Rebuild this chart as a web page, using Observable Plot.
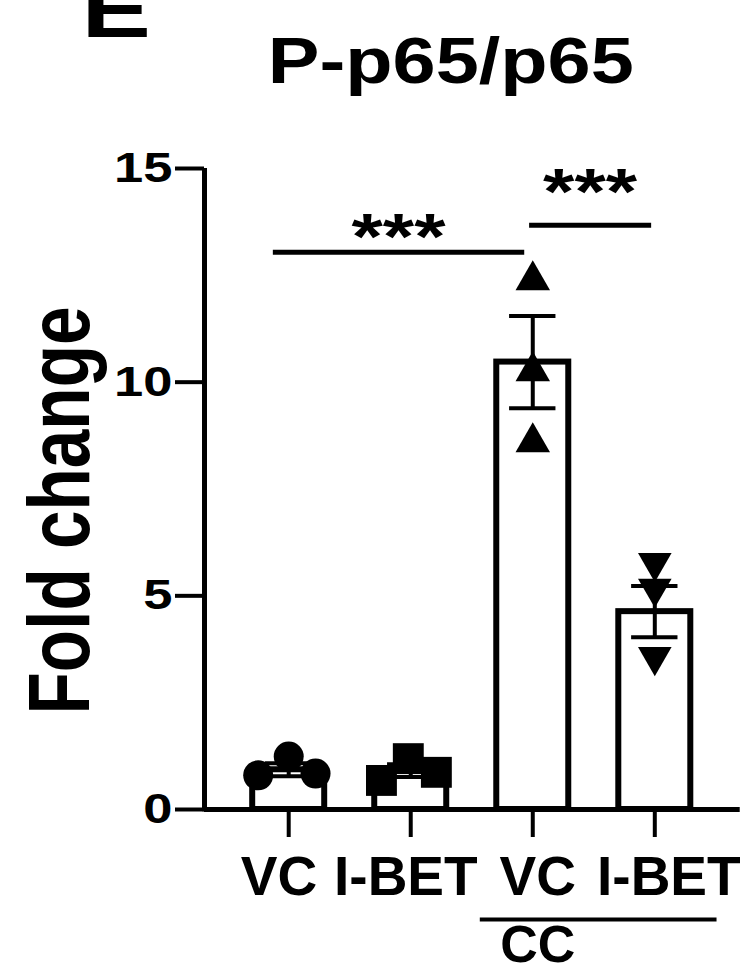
<!DOCTYPE html>
<html><head><meta charset="utf-8">
<script src="https://cdn.jsdelivr.net/npm/d3@7"></script>
<script src="https://cdn.jsdelivr.net/npm/@observablehq/plot@0.6"></script>
<style>
html,body{margin:0;padding:0;background:#fff;}
#chart{width:746px;height:972px;overflow:hidden}
</style></head><body><div id="chart"></div>
<script>
// ---- data ----
const groups = ["VC", "I-BET", "VC", "I-BET"];
const groupLabelShift = [-0.08, -0.04, 0.04, 0.115];
const barMeans = [0.93, 0.91, 10.47, 4.63];
const barSems = [0.15, 0.15, 1.08, 0.60];
const pointGroup = [0, 0, 0, 1, 1, 1, 2, 2, 2, 3, 3, 3];
const pointValues = [0.80, 1.24, 0.84, 0.68, 1.19, 0.87, 12.5, 10.37, 8.71, 5.66, 5.06, 3.46];
const pointJitter = [-0.25, 0, 0.22, -0.24, -0.02, 0.21, 0, 0, 0, 0, 0, 0];
const groupShapes = ["circle", "square", "triangleUp", "triangleDown"];
const yTicks = [0, 5, 10, 15];
const sigFrom = [0, 2];
const sigTo = [2, 3];
const sigFromInset = [-0.13, -0.03];
const sigToInset = [-0.07, -0.03];
const sigLineY = [13.04, 13.67];
const sigStarY = [13.36, 14.42];
const sigLabel = ["***", "***"];
const bracketLabel = "CC";
const bracketGroups = [2, 3];
const panelLabel = "E";
const titleText = "P-p65/p65";
const yLabelText = "Fold change";

// ---- styles ----
const INK = "#000";
const barHalf = 0.295;
const capHalf = 0.19;
const xDomain = [-0.69, 3.69];

const symbols = {
  circle: {draw(c, size) { const r = Math.sqrt(size / Math.PI) * 1.0; c.moveTo(r, 0); c.arc(0, 0, r, 0, 2 * Math.PI); c.closePath(); }},
  square: {draw(c, size) { const h = Math.sqrt(size / Math.PI) * 1.03; c.rect(-h, -h, 2 * h, 2 * h); }},
  triangleUp: {draw(c, size) { const r = Math.sqrt(size / Math.PI); const w = r * 1.15, h = r; c.moveTo(0, -h); c.lineTo(w, h); c.lineTo(-w, h); c.closePath(); }},
  triangleDown: {draw(c, size) { const r = Math.sqrt(size / Math.PI); const w = r * 1.12, h = r * 0.97; c.moveTo(0, h); c.lineTo(w, -h); c.lineTo(-w, -h); c.closePath(); }}
};

const barIdx = d3.range(groups.length);
const ptIdx = d3.range(pointValues.length);
const sigIdx = d3.range(sigFrom.length);

const dotMarks = barIdx.map(g => Plot.dot(ptIdx.filter(j => pointGroup[j] === g), {
  x: j => pointGroup[j] + pointJitter[j],
  y: j => pointValues[j],
  r: 15,
  symbol: symbols[groupShapes[g]],
  fill: INK,
  stroke: "none"
}));

const svg = Plot.plot({
  width: 746,
  height: 972,
  marginLeft: 204,
  marginRight: 7.5,
  marginTop: 168,
  marginBottom: 163,
  style: {fontFamily: "'Liberation Sans', Arial, sans-serif", fontWeight: "bold", background: "white", color: INK, overflow: "visible"},
  x: {type: "linear", domain: xDomain},
  y: {domain: [0, 15]},
  marks: [
    Plot.rect(barIdx, {x1: i => i - barHalf, x2: i => i + barHalf, y1: 0, y2: i => barMeans[i], fill: "white", stroke: INK, strokeWidth: 6}),
    Plot.ruleY([0], {x1: xDomain[0], x2: 3.70, stroke: INK, strokeWidth: 5}),
    Plot.ruleX([xDomain[0]], {y1: -0.05, y2: 15, stroke: INK, strokeWidth: 5}),
    Plot.axisY({ticks: yTicks, tickSize: 29, tickPadding: 3, fontSize: 42, fontWeight: "bold", strokeWidth: 4, label: null, tickFormat: d => String(d)}),
    Plot.axisX({ticks: barIdx, text: null, tickSize: 28, strokeWidth: 4, label: null}),
    Plot.text(barIdx, {x: i => i + groupLabelShift[i], y: 0, text: i => groups[i], dy: 46, lineAnchor: "top", fontSize: 55, fontWeight: "bold", fill: INK}),
    ...dotMarks,
    Plot.ruleX(barIdx, {x: i => i, y1: i => barMeans[i] - barSems[i], y2: i => barMeans[i] + barSems[i], stroke: INK, strokeWidth: 4}),
    Plot.ruleY(barIdx, {x1: i => i - capHalf, x2: i => i + capHalf, y: i => barMeans[i] + barSems[i], stroke: INK, strokeWidth: 4}),
    Plot.ruleY(barIdx, {x1: i => i - capHalf, x2: i => i + capHalf, y: i => barMeans[i] - barSems[i], stroke: INK, strokeWidth: 4}),
    Plot.link(sigIdx, {x1: k => sigFrom[k] + sigFromInset[k], x2: k => sigTo[k] + sigToInset[k], y1: k => sigLineY[k], y2: k => sigLineY[k], stroke: INK, strokeWidth: 5}),
    Plot.text(sigIdx, {x: k => (sigFrom[k] + sigFromInset[k] + sigTo[k] + sigToInset[k]) / 2, y: k => sigStarY[k], text: k => sigLabel[k], fontSize: 64, fontWeight: "bold", lineAnchor: "middle", fill: INK, ariaLabel: () => "stars"}),
    Plot.ruleY([0], {x1: bracketGroups[0] - 0.43, x2: bracketGroups[1] + 0.51, dy: 110, stroke: INK, strokeWidth: 4}),
    Plot.text([bracketLabel], {x: bracketGroups[0], y: 0, text: d => d, dx: 5, dy: 152, lineAnchor: "bottom", fontSize: 52, fontWeight: "bold", fill: INK}),
    Plot.text([titleText], {frameAnchor: "top", text: d => d, dx: -21, dy: -86, lineAnchor: "bottom", fontSize: 65, fontWeight: "bold", fill: INK, ariaLabel: () => "title"}),
    Plot.text([panelLabel], {frameAnchor: "top-left", text: d => d, textAnchor: "start", dx: -123, dy: -132, lineAnchor: "bottom", fontSize: 80, fontWeight: "bold", fill: INK, ariaLabel: () => "panel"}),
    Plot.text([yLabelText], {frameAnchor: "left", text: d => d, rotate: -90, textAnchor: "middle", lineAnchor: "bottom", dx: -116, dy: 21.5, fontSize: 88, fontWeight: "bold", fill: INK, ariaLabel: () => "ylabel"})
  ]
});

document.getElementById("chart").appendChild(svg);

function stretch(label, opts) {
  svg.querySelectorAll(`g[aria-label="${label}"] text, text[aria-label="${label}"]`).forEach(t => {
    const L = opts.length != null ? opts.length : t.getComputedTextLength() * opts.factor;
    t.setAttribute("textLength", L);
    t.setAttribute("lengthAdjust", "spacingAndGlyphs");
  });
}
stretch("title", {length: 366});
stretch("panel", {factor: 1.3});
stretch("ylabel", {length: 408});
stretch("stars", {length: 94});
stretch("y-axis tick label", {factor: 1.25});
</script>
</body></html>
